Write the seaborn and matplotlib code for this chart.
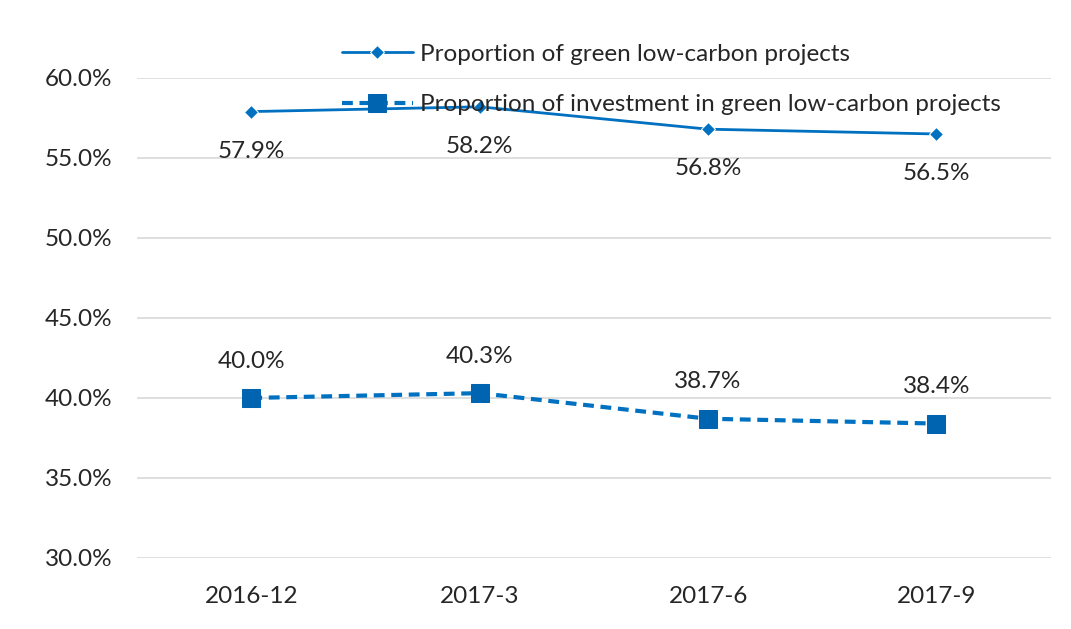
import seaborn as sns
import matplotlib.pyplot as plt
import pandas as pd

# values
periods = ["2016-12", "2017-3", "2017-6", "2017-9"]
share_projects = [57.9, 58.2, 56.8, 56.5]
share_investment = [40.0, 40.3, 38.7, 38.4]
name_projects = "Proportion of green low-carbon projects"
name_investment = "Proportion of investment in green low-carbon projects"
y_ticks = [30, 35, 40, 45, 50, 55, 60]

df = pd.DataFrame({
    "Period": periods * 2,
    "Share": share_projects + share_investment,
    "Series": [name_projects] * 4 + [name_investment] * 4,
})

sns.set_style("white")
plt.rcParams["font.family"] = ["Lato", "DejaVu Sans"]

blue = "#0070C0"
fs = 17.5
fig = plt.figure(figsize=(10.71, 6.29), dpi=100)
ax = fig.add_axes([0.128, 0.113, 0.853, 0.763])

sns.lineplot(data=df, x="Period", y="Share", hue="Series", style="Series",
             markers={name_projects: "D", name_investment: "s"},
             dashes={name_projects: "", name_investment: (2.6, 1.6)},
             palette={name_projects: blue, name_investment: blue},
             sort=False, ax=ax, legend=False)

lines = ax.get_lines()
lines[0].set_linewidth(2)
lines[0].set_markersize(7.5)
lines[1].set_linewidth(3.0)
lines[1].set_markersize(13)
lines[1].set_markerfacecolor("#0064B0")
lines[1].set_markeredgecolor("#0064B0")

# data labels: below the solid line, above the dashed one
for i, v in enumerate(share_projects):
    ax.annotate(f"{v:.1f}%", (i, v), xytext=(0, -28.5), textcoords="offset points",
                ha="center", va="center", fontsize=fs, color="#262626")
for i, v in enumerate(share_investment):
    ax.annotate(f"{v:.1f}%", (i, v), xytext=(0, 26.5), textcoords="offset points",
                ha="center", va="center", fontsize=fs, color="#262626")

ax.set_xlim(-0.5, 3.5)
ax.set_ylim(30, 60)
ax.set_yticks(y_ticks)
ax.set_yticklabels([f"{t:.1f}%" for t in y_ticks])
ax.yaxis.grid(True, color="#d9d9d9", linewidth=1.2)
ax.tick_params(axis="both", length=0, labelsize=fs, colors="#262626")
ax.tick_params(axis="y", pad=18)
ax.tick_params(axis="x", pad=20)
for s in ax.spines.values():
    s.set_visible(False)
ax.set_xlabel("")
ax.set_ylabel("")

fig.legend(lines, [name_projects, name_investment], loc="upper left",
           bbox_to_anchor=(0.299, 0.965), frameon=False, fontsize=fs,
           handlelength=2.9, handletextpad=0.3, labelspacing=1.2,
           labelcolor="#262626")

fig.savefig("out.png", dpi=100, facecolor="white")
